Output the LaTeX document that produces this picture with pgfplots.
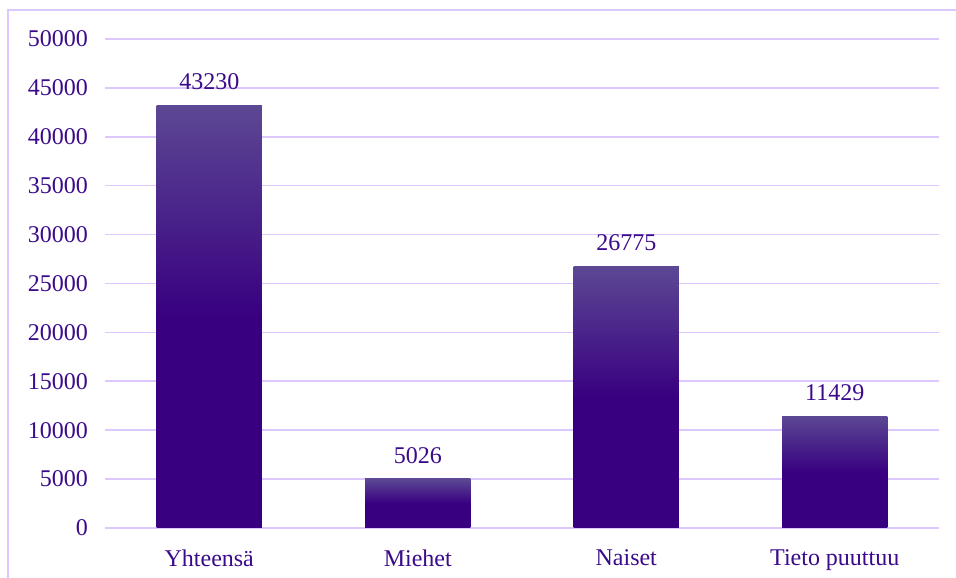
\documentclass[border=0pt]{standalone}
\usepackage{pgfplots}
\pgfplotsset{compat=1.18}
\usepackage{fontspec}
\setmainfont{Liberation Serif}
\definecolor{gridc}{RGB}{220,200,255}
\definecolor{txt}{RGB}{58,10,138}
\definecolor{bardk}{RGB}{56,0,128}
\definecolor{barlt}{RGB}{92,72,148}
\begin{document}
\fontsize{24}{28}\selectfont
\begin{tikzpicture}[x=1pt,y=1pt]
\useasboundingbox (0,0) rectangle (956,578);
\draw[gridc, line width=1.5pt] (8,0) -- (8,568) -- (956,568);
\begin{axis}[
  at={(105pt,50pt)}, anchor=south west,
  scale only axis, width=834pt, height=489pt,
  xmin=-0.5, xmax=3.5, ymin=0, ymax=50000,
  axis line style={draw=none},
  ybar, bar width=0.504, bar shift=0pt,
  ytick={0,5000,...,50000},
  ymajorgrids, major grid style={gridc, line width=1.6pt},
  xtick={0,1,2,3},
  xticklabels={Yhteensä,Miehet,Naiset,Tieto puuttuu},
  xtick style={draw=none}, ytick style={draw=none},
  scaled y ticks=false,
  /pgf/number format/assume math mode=true,
  /pgf/number format/.cd, 1000 sep={}, /pgfplots/.cd,
  yticklabel style={anchor=east, inner sep=0pt, xshift=-17pt, text=txt, font=\fontsize{24}{28}\selectfont},
  xticklabel style={anchor=north, inner sep=0pt, yshift=-17pt, text=txt, font=\fontsize{24}{28}\selectfont},
  nodes near coords,
  every node near coord/.append style={anchor=south, inner sep=0pt, yshift=15pt, text=txt, font=\fontsize{24}{28}\selectfont},
  barstyle/.style={draw=none, top color=barlt, bottom color=bardk, middle color=bardk},
  clip=false,
]
\addplot[barstyle] coordinates {(0,43230)};
\addplot[barstyle] coordinates {(1,5026)};
\addplot[barstyle] coordinates {(2,26775)};
\addplot[barstyle] coordinates {(3,11429)};
\end{axis}
\end{tikzpicture}
\end{document}
